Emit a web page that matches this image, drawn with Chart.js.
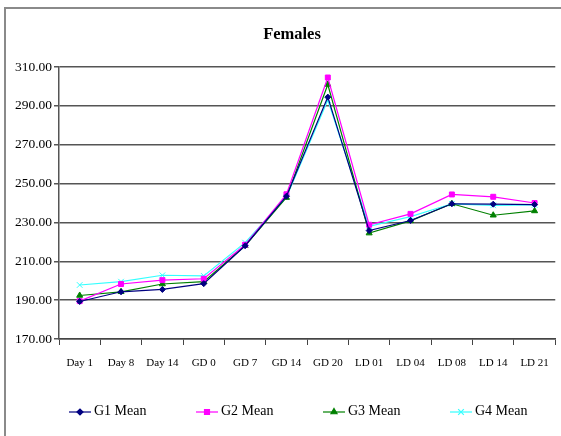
<!DOCTYPE html>
<html>
<head>
<meta charset="utf-8">
<script src="https://cdn.jsdelivr.net/npm/chart.js@4/dist/chart.umd.min.js"></script>
<style>
  html, body { margin: 0; padding: 0; background: #fff; }
  #wrap { position: relative; width: 561px; height: 436px; }
</style>
</head>
<body>
<div id="wrap"><canvas id="chart" width="561" height="436"></canvas></div>
<script>
// Données
const labels = ['Day 1', 'Day 8', 'Day 14', 'GD 0', 'GD 7', 'GD 14', 'GD 20', 'LD 01', 'LD 04', 'LD 08', 'LD 14', 'LD 21'];
const g1Mean = [189.3, 194.3, 195.5, 198.5, 218.0, 243.5, 294.5, 225.8, 231.0, 239.6, 239.4, 239.2];
const g2Mean = [189.5, 198.3, 200.3, 201.0, 218.5, 244.5, 304.6, 228.8, 234.4, 244.4, 243.2, 240.0];
const g3Mean = [192.4, 194.3, 198.3, 199.5, 218.0, 242.8, 301.0, 224.5, 230.8, 239.6, 233.7, 235.9];
const g4Mean = [197.8, 199.5, 202.8, 202.5, 219.6, 243.0, 293.0, 228.0, 233.0, 239.6, 238.8, 239.0];
const yTicks = [170, 190, 210, 230, 250, 270, 290, 310];

const serif = '"Liberation Serif", "Times New Roman", serif';

function serie(label, data, color, style, radius) {
    return {
        label: label,
        data: data,
        borderColor: color,
        backgroundColor: color,
        borderWidth: 1.2,
        pointStyle: style,
        pointRadius: radius,
        pointBorderColor: color,
        pointBackgroundColor: color,
        pointBorderWidth: 1,
        tension: 0
    };
}

const datasets = [
    serie('G1 Mean', g1Mean, '#000080', 'rectRot', 3),
    serie('G2 Mean', g2Mean, '#ff00ff', 'rect', 3.5),
    serie('G3 Mean', g3Mean, '#008000', 'triangle', 3.5),
    serie('G4 Mean', g4Mean, '#33ffff', 'crossRot', 4)
];

// Cadre, titre et légende façon Excel
const decor = {
    id: 'decor',
    beforeDraw(chart) {
        const ctx = chart.ctx;
        ctx.save();
        ctx.strokeStyle = '#8a8a8a';
        ctx.lineWidth = 2;
        ctx.beginPath();
        ctx.moveTo(5, 440);
        ctx.lineTo(5, 8);
        ctx.lineTo(565, 8);
        ctx.stroke();
        ctx.restore();
    },
    afterDraw(chart) {
        const ctx = chart.ctx;
        ctx.save();
        ctx.fillStyle = '#000';
        ctx.font = 'bold 16.5px ' + serif;
        ctx.textAlign = 'center';
        ctx.textBaseline = 'alphabetic';
        ctx.fillText('Females', 292, 38.5);

        ctx.font = '14px ' + serif;
        ctx.textAlign = 'left';
        ctx.textBaseline = 'middle';
        chart.data.datasets.forEach((ds, i) => {
            const x0 = 69 + i * 127;
            const y = 412;
            ctx.strokeStyle = ds.borderColor;
            ctx.lineWidth = 1.2;
            ctx.beginPath();
            ctx.moveTo(x0, y);
            ctx.lineTo(x0 + 22, y);
            ctx.stroke();
            ctx.fillStyle = ds.borderColor;
            Chart.helpers.drawPoint(ctx, {
                pointStyle: ds.pointStyle,
                radius: ds.pointRadius,
                rotation: 0,
                borderWidth: 1
            }, x0 + 11, y);
            ctx.fillStyle = '#000';
            ctx.fillText(ds.label, x0 + 25, y - 1);
        });
        ctx.restore();
    }
};

new Chart(document.getElementById('chart').getContext('2d'), {
    type: 'line',
    data: { labels: labels, datasets: datasets },
    options: {
        responsive: false,
        animation: false,
        layout: { padding: { top: 67, right: 3, bottom: 0, left: 0 } },
        plugins: {
            legend: { display: false },
            title: { display: false },
            tooltip: { enabled: false }
        },
        scales: {
            x: {
                offset: true,
                grid: {
                    offset: true,
                    drawOnChartArea: false,
                    drawTicks: true,
                    tickLength: 6,
                    color: '#444'
                },
                border: { color: '#444', width: 1.5 },
                ticks: {
                    color: '#000',
                    font: { family: serif, size: 11 },
                    padding: 12,
                    maxRotation: 0,
                    autoSkip: false
                },
                afterFit(scale) { scale.height = 97; }
            },
            y: {
                min: 170,
                max: 310,
                afterBuildTicks(scale) { scale.ticks = yTicks.map(v => ({ value: v })); },
                grid: {
                    color: '#555',
                    lineWidth: 1.5,
                    tickLength: 5,
                    drawTicks: true
                },
                border: { color: '#555', width: 1.5 },
                ticks: {
                    color: '#000',
                    font: { family: serif, size: 13.5 },
                    padding: 2,
                    callback: v => v.toFixed(2)
                },
                afterFit(scale) { scale.width = 59; }
            }
        }
    },
    plugins: [decor]
});
</script>
</body>
</html>
